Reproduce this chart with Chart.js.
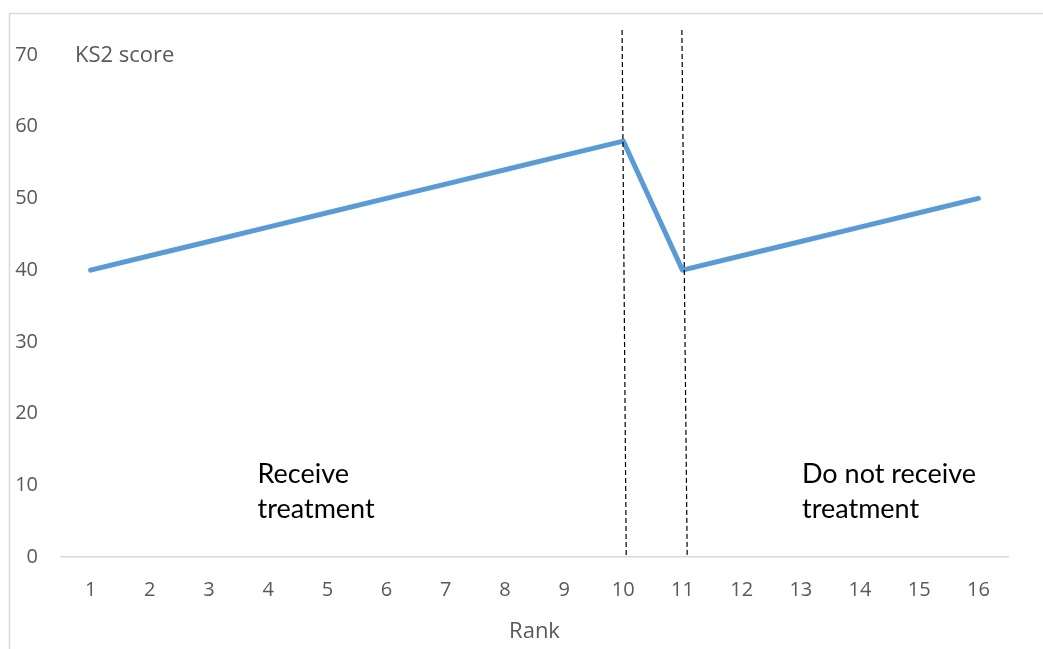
<!DOCTYPE html>
<html><head><meta charset="utf-8">
<script src="https://cdn.jsdelivr.net/npm/chart.js@4/dist/chart.umd.min.js"></script>
<style>html,body{margin:0;padding:0;background:#fff;}#wrap{width:1043px;height:649px;position:relative;}</style>
</head><body><div id="wrap"><canvas id="c" width="1043" height="649"></canvas></div>
<script>
const ranks = ['1','2','3','4','5','6','7','8','9','10','11','12','13','14','15','16'];
const scores = [40,42,44,46,48,50,52,54,56,58,40,42,44,46,48,50];
const yTicks = [0,10,20,30,40,50,60,70];
const cutoffLines = [ {bottom: 9.05, top: 8.98}, {bottom: 10.08, top: 9.99} ];
const regionLabels = [
  {lines:['Receive','treatment'], x: 2.82, y: 10.3},
  {lines:['Do not receive','treatment'], x: 12.02, y: 10.3}
];
const yTitle = 'KS2 score';
const xTitle = 'Rank';

const overlay = {
  id: 'overlay',
  beforeDraw(chart){
    const ctx = chart.ctx;
    ctx.save();
    ctx.strokeStyle = '#d9d9d9'; ctx.lineWidth = 1.5;
    ctx.beginPath(); ctx.moveTo(9.5, 649); ctx.lineTo(9.5, 13.5); ctx.lineTo(1043, 13.5); ctx.stroke();
    ctx.restore();
  },
  afterDatasetsDraw(chart){
    const ctx = chart.ctx, xs = chart.scales.x, ys = chart.scales.y;
    ctx.save();
    ctx.strokeStyle = '#000'; ctx.lineWidth = 1.2; ctx.setLineDash([5,3]);
    cutoffLines.forEach(l => {
      ctx.beginPath();
      ctx.moveTo(xs.getPixelForValue(l.top), ys.getPixelForValue(73.5));
      ctx.lineTo(xs.getPixelForValue(l.bottom), ys.getPixelForValue(0));
      ctx.stroke();
    });
    ctx.setLineDash([]);
    ctx.fillStyle = '#000'; ctx.font = '27px Lato'; ctx.textBaseline = 'alphabetic'; ctx.textAlign='left';
    regionLabels.forEach(r => {
      const px = xs.getPixelForValue(r.x), py = ys.getPixelForValue(r.y);
      r.lines.forEach((t,i) => ctx.fillText(t, px, py + i*35));
    });
    ctx.fillStyle = '#595959'; ctx.font = '22px "Open Sans"';
    ctx.fillText(yTitle, chart.chartArea.left + 14, ys.getPixelForValue(70) + 7);
    ctx.restore();
  }
};

new Chart(document.getElementById('c'), {
  type: 'line',
  data: { labels: ranks, datasets: [{ data: scores, borderColor: '#5B9BD5', borderWidth: 5, pointRadius: 0, tension: 0, borderCapStyle: 'round', borderJoinStyle: 'round' }] },
  options: {
    responsive: false, animation: false,
    layout: { padding: { top: 55, right: 35, left: 0, bottom: 0 } },
    plugins: { legend: {display:false}, tooltip: {enabled:false} },
    scales: {
      x: {
        offset: true,
        grid: { display: false, drawTicks: false },
        border: { display: true, color: '#d9d9d9', width: 1.5 },
        ticks: { color: '#595959', font: { family: 'Open Sans', size: 20 }, padding: 21, maxRotation: 0 },
        title: { display: true, text: xTitle, color: '#595959', font: { family: 'Open Sans', size: 22 }, padding: { top: 8, bottom: 4 } },
        afterFit(s){ s.height = 92; }
      },
      y: {
        min: 0, max: 70,
        afterBuildTicks(s){ s.ticks = yTicks.map(v => ({value: v})); },
        grid: { display: false, drawTicks: false },
        border: { display: false },
        ticks: { color: '#595959', font: { family: 'Open Sans', size: 20 }, padding: 23 },
        afterFit(s){ s.width = 61; }
      }
    }
  },
  plugins: [overlay]
});
</script></body></html>
